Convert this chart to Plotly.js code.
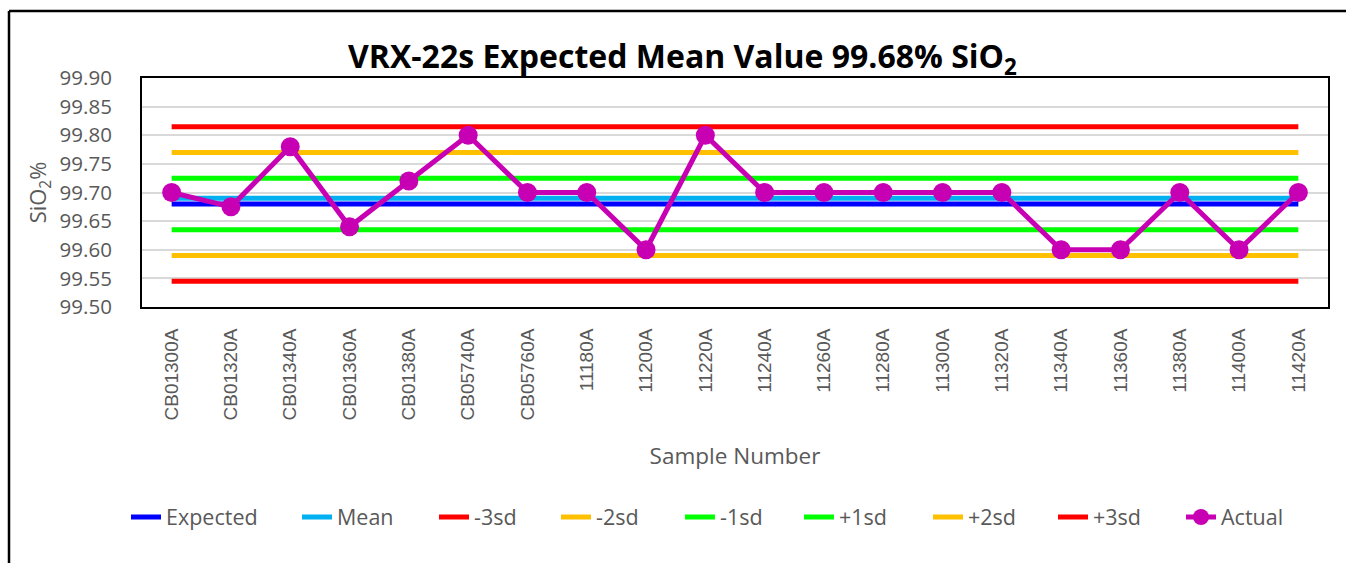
<!DOCTYPE html>
<html>
<head>
<meta charset="utf-8">
<script src="https://cdn.plot.ly/plotly-3.0.1.min.js"></script>
<style>
  html, body { margin: 0; padding: 0; background: #ffffff; }
  #chart { width: 1346px; height: 563px; }
</style>
</head>
<body>
<div id="chart"></div>
<script>
// ---- data ----
const samples = ["CB01300A","CB01320A","CB01340A","CB01360A","CB01380A","CB05740A","CB05760A",
  "11180A","11200A","11220A","11240A","11260A","11280A","11300A","11320A",
  "11340A","11360A","11380A","11400A","11420A"];
const actual = [99.70, 99.675, 99.78, 99.64, 99.72, 99.80, 99.70,
  99.70, 99.60, 99.80, 99.70, 99.70, 99.70, 99.70, 99.70,
  99.60, 99.60, 99.70, 99.60, 99.70];
const expectedValue = 99.68;
const meanValue = 99.69;
const minus3sd = 99.545;
const minus2sd = 99.59;
const minus1sd = 99.635;
const plus1sd = 99.725;
const plus2sd = 99.77;
const plus3sd = 99.815;
const yTicks = [99.50, 99.55, 99.60, 99.65, 99.70, 99.75, 99.80, 99.85, 99.90];

// ---- styles ----
const levelSeries = [
  {name: "Expected", value: expectedValue, color: "#0000FF", lw: 126},
  {name: "Mean",     value: meanValue,     color: "#00B0F0", lw: 92},
  {name: "-3sd",     value: minus3sd,      color: "#FF0000", lw: 77},
  {name: "-2sd",     value: minus2sd,      color: "#FFC000", lw: 79},
  {name: "-1sd",     value: minus1sd,      color: "#00FF00", lw: 74},
  {name: "+1sd",     value: plus1sd,       color: "#00FF00", lw: 84},
  {name: "+2sd",     value: plus2sd,       color: "#FFC000", lw: 80},
  {name: "+3sd",     value: plus3sd,       color: "#FF0000", lw: 83}
];

const traces = levelSeries.map(s => ({
  type: "scatter", mode: "lines", name: s.name,
  x: samples, y: samples.map(() => s.value),
  line: {color: s.color, width: 5}, hoverinfo: "skip",
  legendwidth: s.lw
}));
traces.push({
  type: "scatter", mode: "lines+markers", name: "Actual",
  x: samples, y: actual,
  line: {color: "#C800B4", width: 5},
  marker: {color: "#C800B4", size: 19}
});

const gray = "#595959";
// plot area in pixels (for the outer frame)
const L = 142, R = 18, T = 78, B = 256, W = 1346, H = 563;
const pw = W - L - R, ph = H - T - B;
const px = v => (v - L) / pw;
const py = v => 1 - (v - T) / ph;

const layout = {
  width: W, height: H,
  margin: {l: L, r: R, t: T, b: B},
  paper_bgcolor: "#ffffff", plot_bgcolor: "#ffffff",
  showlegend: true,
  title: {
    text: "VRX-22s Expected Mean Value 99.68% SiO<sub>2</sub>",
    font: {family: "Open Sans", size: 32, color: "#000000", weight: "bold"},
    xref: "container", x: 0.507, xanchor: "center",
    yref: "container", y: 1 - 57 / H, yanchor: "middle"
  },
  xaxis: {
    type: "category",
    range: [-0.5, samples.length - 0.5],
    tickangle: -90,
    tickfont: {family: "Liberation Sans", size: 19, color: gray},
    showgrid: false, zeroline: false,
    showline: true, mirror: true, linecolor: "#000000", linewidth: 2,
    ticks: "", ticklabelstandoff: 12,
    title: {text: "Sample Number", font: {family: "Open Sans", size: 22.5, color: gray}, standoff: 29},
    fixedrange: true
  },
  yaxis: {
    range: [99.50, 99.90],
    tickvals: yTicks,
    ticktext: yTicks.map(v => v.toFixed(2)),
    tickfont: {family: "Open Sans", size: 20.5, color: gray},
    showgrid: true, gridcolor: "#D9D9D9", gridwidth: 2,
    zeroline: false,
    showline: true, mirror: true, linecolor: "#000000", linewidth: 2,
    ticks: "", ticklabelstandoff: 24,
    title: {text: "SiO<sub>2</sub>%", font: {family: "Open Sans", size: 22, color: gray}, standoff: 7},
    fixedrange: true
  },
  legend: {
    orientation: "h",
    xref: "container", x: 126 / W, xanchor: "left",
    yref: "container", y: 1 - 517 / H, yanchor: "middle",
    font: {family: "Open Sans", size: 21.5, color: gray},
    itemwidth: 30,
    tracegroupgap: 0,
    bgcolor: "rgba(0,0,0,0)"
  },
  shapes: [
    {type: "line", xref: "paper", yref: "paper", x0: px(9), x1: px(9), y0: py(11), y1: py(H + 5),
     line: {color: "#000000", width: 2.5}},
    {type: "line", xref: "paper", yref: "paper", x0: px(9), x1: px(W + 5), y0: py(11), y1: py(11),
     line: {color: "#000000", width: 2.5}}
  ]
};

Plotly.newPlot("chart", traces, layout, {displayModeBar: false, staticPlot: true});
</script>
</body>
</html>
